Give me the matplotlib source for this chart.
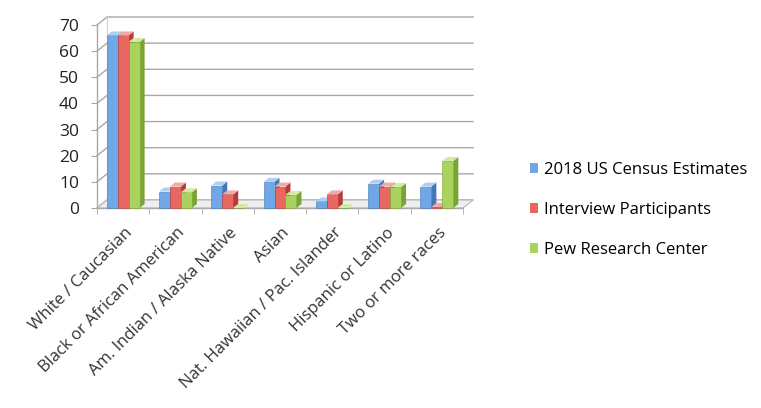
import numpy as np
import matplotlib
matplotlib.use("Agg")
import matplotlib.pyplot as plt
from matplotlib.patches import Polygon, Patch

categories = ["White / Caucasian", "Black or African American",
              "Am. Indian / Alaska Native", "Asian",
              "Nat. Hawaiian / Pac. Islander", "Hispanic or Latino",
              "Two or more races"]
series_names = ["2018 US Census Estimates", "Interview Participants",
                "Pew Research Center"]
census = [66, 6.3, 8.6, 10, 2.5, 9.3, 8.2]
interview = [66, 8.2, 5.2, 8.2, 5.2, 8.2, 0.4]
pew = [63.5, 6, 0, 5, 0, 8, 18]
yticks = [0, 10, 20, 30, 40, 50, 60, 70]

face_colors = ["#70a7e6", "#e8675f", "#a9d35e"]
side_colors = ["#4378b8", "#b23d38", "#7aa334"]
top_colors = ["#b0cdf2", "#f3aaa6", "#d3eaa4"]

W, H = 761, 408
fig = plt.figure(figsize=(W / 100, H / 100), dpi=100)
fig.patch.set_facecolor("white")

# front plane of the plot area, in pixels
x0, x1, ytop, ybot = 97, 463, 25, 208
ax = fig.add_axes([x0 / W, (H - ybot) / H, (x1 - x0) / W, (ybot - ytop) / H])
ax.set_xlim(-0.5, len(categories) - 0.5)
ax.set_ylim(0, 70)
for s in ax.spines.values():
    s.set_visible(False)
ax.patch.set_visible(False)

# pixel -> data unit factors
ux = (len(categories)) / (x1 - x0)
uy = 70 / (ybot - ytop)
wall_dx, wall_dy = 10 * ux, 8 * uy
bar_dx, bar_dy = 5 * ux, 4 * uy

xl, xr = -0.5, len(categories) - 0.5
grid_c = "#a8a8a8"

# floor
floor = Polygon([(xl, 0), (xr, 0), (xr + wall_dx, wall_dy), (xl + wall_dx, wall_dy)],
                closed=True, facecolor="#eeeeee", edgecolor="#b8b8b8", lw=0.8,
                clip_on=False, zorder=1)
ax.add_patch(floor)

# walls and gridlines
for t in yticks:
    ax.plot([xl, xl + wall_dx, xr + wall_dx], [t, t + wall_dy, t + wall_dy],
            color=grid_c, lw=1.0, clip_on=False, zorder=0.5)
ax.plot([xl, xl], [0, 70], color=grid_c, lw=1.0, clip_on=False, zorder=0.6)
ax.plot([xl + wall_dx, xl + wall_dx], [wall_dy, 70 + wall_dy], color="#d0d0d0",
        lw=0.8, clip_on=False, zorder=0.5)

# bars with pseudo 3D faces
n = len(series_names)
bw = 0.21
offsets = (np.arange(n) - (n - 1) / 2) * bw
for si, vals in enumerate([census, interview, pew]):
    xs = np.arange(len(categories)) + offsets[si]
    ax.bar(xs, vals, width=bw, color=face_colors[si], edgecolor=side_colors[si],
           linewidth=0.4, zorder=3 + si, clip_on=False)
    for x, v in zip(xs, vals):
        l, r = x - bw / 2, x + bw / 2
        ax.add_patch(Polygon([(r, 0), (r + bar_dx, bar_dy), (r + bar_dx, v + bar_dy), (r, v)],
                             closed=True, facecolor=side_colors[si], edgecolor="none",
                             zorder=2.9 + si, clip_on=False))
        ax.add_patch(Polygon([(l, v), (r, v), (r + bar_dx, v + bar_dy), (l + bar_dx, v + bar_dy)],
                             closed=True, facecolor=top_colors[si], edgecolor="none",
                             zorder=3 + si, clip_on=False))

# axes ticks
font = ["Open Sans", "DejaVu Sans"]
ax.set_yticks(yticks)
ax.set_yticklabels([str(t) for t in yticks], family=font, fontsize=12.5, color="#222222")
ax.tick_params(axis="y", length=4, color=grid_c, pad=9)
ax.set_xticks(np.arange(-0.5, len(categories)), minor=True)
ax.set_xticks(np.arange(len(categories)) + 0.03)
ax.set_xticklabels(categories, rotation=45, ha="right", rotation_mode="anchor",
                   family=font, fontsize=12, color="#333333")
ax.tick_params(axis="x", which="major", length=0, pad=12)
ax.tick_params(axis="x", which="minor", length=4, color=grid_c)
ax.plot([xl, xr], [0, 0], color=grid_c, lw=1.0, clip_on=False, zorder=2)

handles = [Patch(facecolor=c, edgecolor="none") for c in face_colors]
leg = fig.legend(handles, series_names, loc="center left",
                 bbox_to_anchor=(515 / W, (H - 210) / H), frameon=False,
                 prop={"family": font, "size": 12}, handlelength=0.5,
                 handleheight=0.5, handletextpad=0.35, labelspacing=1.45)

fig.savefig("out.png", dpi=100)
